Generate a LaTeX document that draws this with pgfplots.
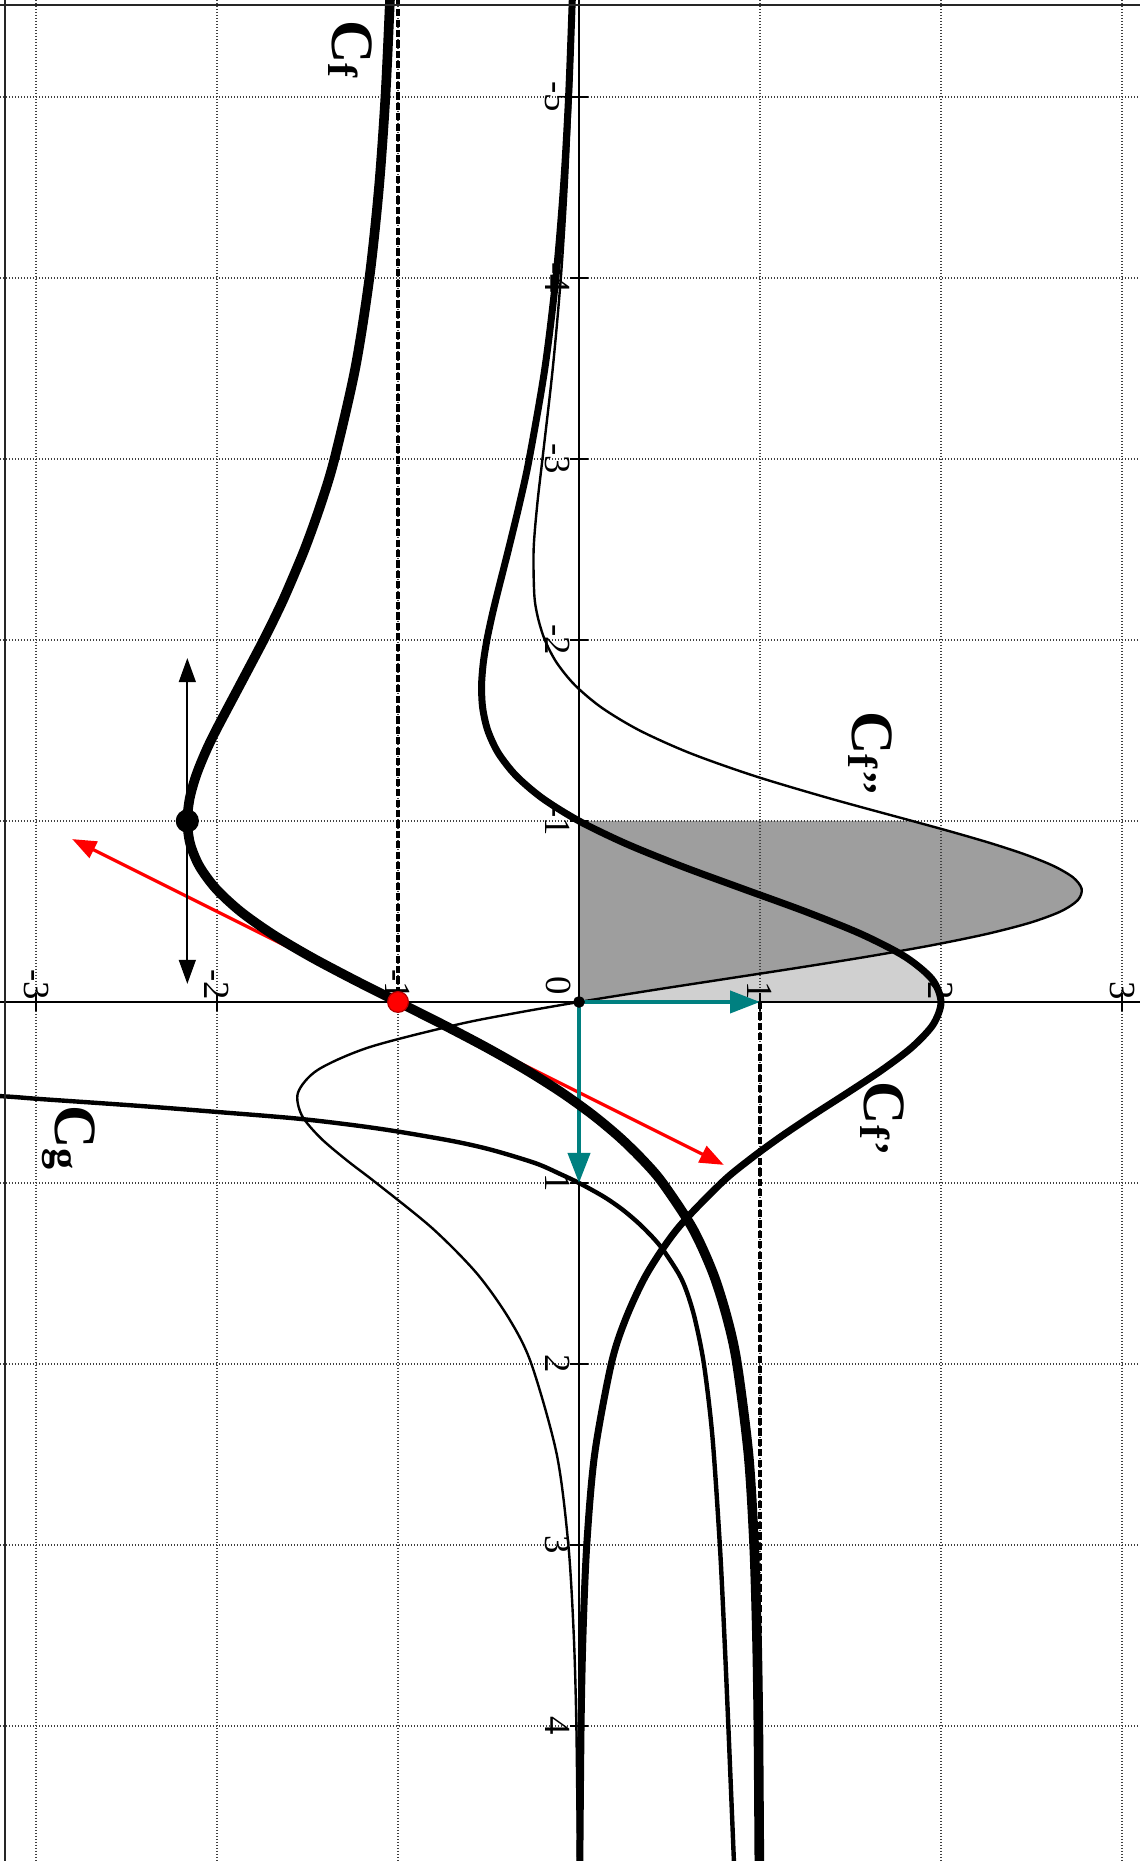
\documentclass[border=0pt]{standalone}
\usepackage{fontspec}
\setmainfont{Liberation Serif}
\usepackage{pgfplots}
\pgfplotsset{compat=1.18}
\usepackage{pgfplotstable}
\usetikzlibrary{arrows.meta}
\definecolor{teal0}{RGB}{0,128,128}
\definecolor{lightfill}{RGB}{208,208,208}
\definecolor{darkfill}{RGB}{158,158,158}

% f(x) = (x e^x - 1)/(x e^x + 1), values read/checked against the picture
\pgfplotstableread[row sep=\\]{
X Y\\
-5.6 -1.0423\\ -5.5 -1.0460\\ -5 -1.0697\\ -4.5 -1.1052\\ -4 -1.1581\\
-3.5 -1.2364\\ -3 -1.3512\\ -2.75 -1.4266\\ -2.5 -1.5164\\ -2.25 -1.6217\\
-2.125 -1.6802\\ -2 -1.7422\\ -1.75 -1.8740\\ -1.5 -2.0061\\ -1.375 -2.0659\\
-1.25 -2.1159\\ -1.125 -2.1508\\ -1 -2.1640\\ -0.875 -2.1484\\ -0.75 -2.0973\\
-0.625 -2.0054\\ -0.5 -1.8705\\ -0.375 -1.6945\\ -0.25 -1.4836\\ -0.125 -1.2480\\
0 -1\\ 0.125 -0.7519\\ 0.25 -0.5140\\ 0.375 -0.2940\\ 0.5 -0.0963\\
0.625 0.0773\\ 0.75 0.2271\\ 0.875 0.3546\\ 1 0.4621\\ 1.25 0.6271\\
1.5 0.7410\\ 1.75 0.8193\\ 2 0.8732\\ 2.5 0.9364\\ 3 0.9674\\
3.5 0.9829\\ 4 0.9909\\ 4.8 0.9966\\
}\ftab

\pgfplotstableread[row sep=\\]{
X Y\\
-5.6 -0.0355\\ -5.5 -0.0385\\ -5 -0.0577\\ -4.5 -0.0862\\ -4 -0.1280\\
-3.5 -0.1888\\ -3 -0.2752\\ -2.75 -0.3294\\ -2.5 -0.3898\\ -2.25 -0.4528\\
-2.125 -0.4826\\ -2 -0.5089\\ -1.875 -0.5287\\ -1.75 -0.5383\\ -1.625 -0.5323\\
-1.5 -0.5041\\ -1.375 -0.4456\\ -1.25 -0.3477\\ -1.125 -0.2014\\ -1 0\\
-0.875 0.2583\\ -0.75 0.5664\\ -0.625 0.9065\\ -0.5 1.2494\\ -0.375 1.5593\\
-0.25 1.8014\\ -0.125 1.9511\\ 0 2\\ 0.125 1.9562\\ 0.25 1.8395\\
0.375 1.6749\\ 0.5 1.4861\\ 0.625 1.2922\\ 0.75 1.1065\\ 0.875 0.9367\\
1 0.7864\\ 1.25 0.5461\\ 1.5 0.3757\\ 1.75 0.2583\\ 2 0.1781\\
2.5 0.0862\\ 3 0.0428\\ 3.5 0.0218\\ 4 0.0113\\ 4.8 0.0041\\
}\fptab

\pgfplotstableread[row sep=\\]{
X Y\\
-5.6 -0.0290\\ -5.5 -0.0314\\ -5 -0.0465\\ -4.5 -0.0686\\ -4 -0.1005\\
-3.5 -0.1451\\ -3 -0.2020\\ -2.75 -0.2306\\ -2.5 -0.2507\\ -2.25 -0.2470\\
-2.125 -0.2274\\ -2 -0.1888\\ -1.875 -0.1236\\ -1.75 -0.0222\\ -1.625 0.1267\\
-1.5 0.3350\\ -1.375 0.6131\\ -1.25 0.9655\\ -1.125 1.3843\\ -1 1.8413\\
-0.9375 2.0682\\ -0.875 2.2819\\ -0.8125 2.4715\\ -0.75 2.6249\\ -0.6875 2.7305\\
-0.625 2.7771\\ -0.5625 2.7556\\ -0.5 2.6607\\ -0.4375 2.4908\\ -0.375 2.2494\\
-0.3125 1.9450\\ -0.25 1.5901\\ -0.1875 1.2006\\ -0.125 0.7941\\ -0.0625 0.3885\\
0 0\\ 0.0625 -0.3575\\ 0.125 -0.6736\\ 0.25 -1.1589\\ 0.375 -1.4429\\
0.5 -1.5522\\ 0.625 -1.5322\\ 0.75 -1.4294\\ 0.875 -1.2827\\ 1 -1.1201\\
1.25 -0.8106\\ 1.5 -0.5643\\ 1.75 -0.3862\\ 2 -0.2630\\ 2.5 -0.1228\\
3 -0.0588\\ 3.5 -0.0289\\ 4 -0.0146\\ 4.8 -0.0051\\
}\fpptab

\pgfplotstableread[row sep=\\]{
X Y\\
0.505 -3.45\\ 0.523 -3.15\\ 0.536 -2.98\\ 0.56 -2.63\\ 0.58 -2.35\\
0.606 -2.02\\ 0.643 -1.57\\ 0.68 -1.25\\ 0.716 -1.00\\ 0.77 -0.69\\
0.818 -0.48\\ 0.891 -0.24\\ 0.95 -0.105\\ 1 0\\ 1.076 0.137\\
1.15 0.244\\ 1.24 0.348\\ 1.35 0.450\\ 1.5 0.550\\ 1.6 0.595\\
1.75 0.640\\ 2 0.690\\ 2.4 0.737\\ 3 0.778\\ 3.5 0.803\\
4 0.825\\ 4.8 0.858\\
}\gtab

% area under Cf' on [-1,0]
\pgfplotstableread[row sep=\\]{
X Y\\
-1 0\\ -0.9375 0.1222\\ -0.875 0.2583\\ -0.8125 0.4070\\ -0.75 0.5664\\
-0.6875 0.7341\\ -0.625 0.9065\\ -0.5625 1.0798\\ -0.5 1.2494\\ -0.4375 1.4108\\
-0.375 1.5593\\ -0.3125 1.6907\\ -0.25 1.8014\\ -0.1875 1.8887\\ -0.125 1.9511\\
-0.0625 1.9880\\ 0 2\\ 0 0\\
}\lightarea

% area under Cf'' on [-1,0]
\pgfplotstableread[row sep=\\]{
X Y\\
-1 0\\ -1 1.8413\\ -0.9375 2.0682\\ -0.875 2.2819\\ -0.8125 2.4715\\
-0.75 2.6249\\ -0.6875 2.7305\\ -0.625 2.7771\\ -0.5625 2.7556\\ -0.5 2.6607\\
-0.4375 2.4908\\ -0.375 2.2494\\ -0.3125 1.9450\\ -0.25 1.5901\\ -0.1875 1.2006\\
-0.125 0.7941\\ -0.0625 0.3885\\ 0 0\\
}\darkarea

\newcommand{\clab}[1]{{\fontsize{15}{15}\selectfont\bfseries C\raisebox{-1pt}{\fontsize{10.5}{10.5}\selectfont\bfseries #1}}}

\begin{document}
\begin{tikzpicture}
\begin{axis}[
  set layers,
  x=45.25pt, y=45.25pt,
  y dir=reverse,
  xmin=-3.199, xmax=3.099, ymin=-5.536, ymax=4.746,
  enlargelimits=false,
  axis lines=middle,
  axis line style={-, line width=0.5pt, black},
  xtick={-3,-2,-1,1,2,3},
  xticklabels={-3,-2,-1,1,2,3},
  ytick={-5,-4,-3,-2,-1,1,2,3,4},
  yticklabels={-5,-4,-3,-2,-1,1,2,3,4},
  tick align=center,
  major tick length=4.5pt,
  tick style={black, line width=0.4pt},
  grid=major,
  grid style={line width=0.3pt, black!75, dash pattern=on 0.3pt off 0.45pt},
  xticklabel style={rotate=-90, anchor=east, font=\fontsize{9.2}{10}\selectfont},
  yticklabel style={rotate=-90, anchor=north, font=\fontsize{9.2}{10}\selectfont},
  yticklabel shift=-3.5pt,
  xticklabel shift=0.8pt,
]
% shaded areas (below the grid)
\addplot[on layer=axis background, draw=none, fill=lightfill] table[x=Y, y=X] {\lightarea};
\addplot[on layer=axis background, draw=none, fill=darkfill] table[x=Y, y=X] {\darkarea};

% tangent at (0,-1), slope 2
\addplot[red, line width=0.8pt, {Triangle[length=6pt,width=4.5pt]}-{Triangle[length=6pt,width=4.5pt]}] table[x=Y, y=X, row sep=\\] {X Y\\ -0.9 -2.8\\ 0.9 0.8\\};
% horizontal tangent at the minimum
\addplot[black, line width=0.5pt, {Triangle[length=6pt,width=4.2pt]}-{Triangle[length=6pt,width=4.2pt]}] table[x=Y, y=X, row sep=\\] {X Y\\ -1.9 -2.164\\ -0.1 -2.164\\};

% curves
\addplot[black, line width=0.6pt, smooth] table[x=Y, y=X] {\fpptab};
\addplot[black, line width=1.1pt, smooth] table[x=Y, y=X] {\gtab};
\addplot[black, line width=1.75pt, smooth] table[x=Y, y=X] {\fptab};

% unit vectors
\addplot[teal0, line width=1pt, -{Triangle[length=7.5pt,width=5.5pt]}] table[x=Y, y=X, row sep=\\] {X Y\\ 0 0\\ 1 0\\};
\addplot[teal0, line width=1pt, -{Triangle[length=7.5pt,width=5.5pt]}] table[x=Y, y=X, row sep=\\] {X Y\\ 0 0\\ 0 1\\};

\addplot[black, line width=2.4pt, smooth] table[x=Y, y=X] {\ftab};

% points
\addplot[only marks, mark=*, mark size=2.7pt, black] table[x=Y, y=X, row sep=\\] {X Y\\ -1 -2.164\\};
\addplot[only marks, mark=*, mark size=2.6pt, red, mark options={fill=red, draw=red!70!black, line width=0.3pt}] table[x=Y, y=X, row sep=\\] {X Y\\ 0 -1\\};
\addplot[only marks, mark=*, mark size=1.25pt, black] table[x=Y, y=X, row sep=\\] {X Y\\ 0 0\\};

% asymptote helpers
\addplot[black, line width=0.9pt, dash pattern=on 1.8pt off 0.8pt] table[x=Y, y=X, row sep=\\] {X Y\\ -5.6 -1\\ 0 -1\\};
\addplot[black, line width=0.9pt, dash pattern=on 1.8pt off 0.8pt] table[x=Y, y=X, row sep=\\] {X Y\\ 0 1\\ 4.8 1\\};

% frame remains (left and top)
\draw[line width=0.5pt, black!85] (axis cs:-3.173,-5.536) -- (axis cs:-3.173,4.746);
\draw[line width=0.5pt, black!85] (axis cs:-3.199,-5.508) -- (axis cs:3.099,-5.508);

% labels
\node[rotate=-90, inner sep=0pt] at (axis cs:-1.265,-5.265) {\clab{f}};
\node[rotate=-90, inner sep=0pt] at (axis cs:1.608,-1.373) {\clab{f\textquoteright\textquoteright}};
\node[rotate=-90, inner sep=0pt] at (axis cs:1.677,0.644) {\clab{f\textquoteright}};
\node[rotate=-90, inner sep=0pt] at (axis cs:-2.818,0.749) {\clab{g}};
\node[rotate=-90, inner sep=0pt, font=\fontsize{9.2}{10}\selectfont] at (axis cs:-0.115,-0.09) {0};

\coordinate (bbA) at (axis cs:-3.199,-5.536);
\coordinate (bbB) at (axis cs:3.099,4.746);
\end{axis}
\pgfresetboundingbox
\path[use as bounding box] (bbA) rectangle (bbB);
\end{tikzpicture}
\end{document}
